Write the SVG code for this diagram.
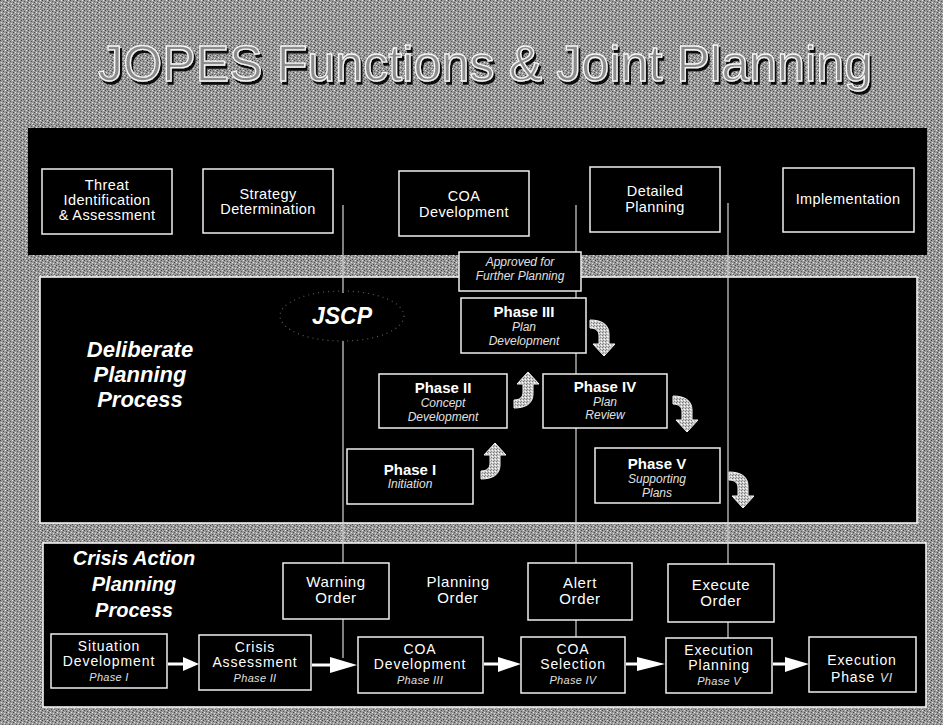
<svg xmlns="http://www.w3.org/2000/svg" width="943" height="725" viewBox="0 0 943 725">
<defs>
<pattern id="noise" width="7" height="5" patternUnits="userSpaceOnUse">
<rect width="7" height="5" fill="#9a9a9a"/>
<rect x="0" y="0" width="1" height="1" fill="#444"/>
<rect x="3" y="1" width="1" height="1" fill="#555"/>
<rect x="5" y="0" width="1" height="1" fill="#e6e6e6"/>
<rect x="1" y="2" width="1" height="1" fill="#e6e6e6"/>
<rect x="6" y="2" width="1" height="1" fill="#4a4a4a"/>
<rect x="4" y="3" width="1" height="1" fill="#ddd"/>
<rect x="2" y="4" width="1" height="1" fill="#505050"/>
<rect x="5" y="4" width="1" height="1" fill="#6a6a6a"/>
</pattern>
<pattern id="lite" width="3" height="3" patternUnits="userSpaceOnUse">
<rect width="3" height="3" fill="#c8c8c8"/>
<rect x="0" y="0" width="1" height="1" fill="#777"/>
<rect x="2" y="1" width="1" height="1" fill="#fff"/>
<rect x="1" y="2" width="1" height="1" fill="#888"/>
</pattern>
<filter id="shadow" x="-5%" y="-20%" width="110%" height="150%">
<feOffset in="SourceAlpha" dx="2" dy="3" result="o"/>
<feFlood flood-color="#111"/>
<feComposite in2="o" operator="in" result="s"/>
<feMerge><feMergeNode in="s"/><feMergeNode in="SourceGraphic"/></feMerge>
</filter>
<path id="cdown" d="M0,0 C11,0 19,4 19,14 L19,24 L25,24 L14,36 L3,24 L9,24 L9,16 C9,11 6,8 0,8 Z"/>
<path id="cup" d="M0,36 C11,36 19,32 19,22 L19,12 L25,12 L14,0 L3,12 L9,12 L9,20 C9,25 6,28 0,28 Z"/>
<style>
.bg{fill:url(#noise)}
.band{fill:#000}
.bandb{fill:#000;stroke:#f2f2f2;stroke-width:1.6}
.box{fill:#000;stroke:#efefef;stroke-width:1.5}
.t{font-family:"Liberation Sans",Arial,Helvetica,sans-serif;fill:#fff;text-anchor:middle}
.s14{font-size:14.5px;letter-spacing:0.4px}
.s16{font-size:15px;letter-spacing:0.6px}
.s15{font-size:14px;letter-spacing:0.9px}
.ph{font-size:15px;font-weight:bold}
.sub{font-size:12px;font-style:italic;fill:#e0e0e0}
.sub2{font-size:11px;font-style:italic;fill:#e0e0e0;letter-spacing:0.3px}
.big{font-size:22px;font-weight:bold;font-style:italic}
.vl{stroke:#d6d6d6;stroke-width:1.2;fill:none}
.wa{fill:#fff}
.ws{stroke:#fff;stroke-width:3}
.ca{fill:url(#lite);stroke:#f4f4f4;stroke-width:1}
.title{font-family:"Liberation Sans",Arial,sans-serif;font-size:50px;fill:#8c8c8c;stroke:#f6f6f6;stroke-width:1.3}
</style>
</defs>

<rect class="bg" x="0" y="0" width="943" height="725"/>

<!-- title -->
<g id="title">
<text class="title" x="98" y="81" textLength="774" filter="url(#shadow)">JOPES Functions &amp; Joint Planning</text>
</g>

<!-- bands -->
<g id="bands">
<rect class="band" x="28" y="128" width="899" height="127"/>
<rect class="bandb" x="40" y="277" width="877" height="246"/>
<rect class="bandb" x="43" y="543" width="883" height="164"/>
</g>

<!-- connectors -->
<g id="connectors">
<line class="vl" x1="343" y1="205" x2="343" y2="293"/>
<line class="vl" x1="343" y1="341" x2="343" y2="658"/>
<line class="vl" x1="576" y1="205" x2="576" y2="637"/>
<line class="vl" x1="728" y1="203" x2="728" y2="638"/>
<ellipse cx="342" cy="316" rx="62" ry="25" fill="none" stroke="#5a5a5a" stroke-width="1.2" stroke-dasharray="1 4"/>
<line class="ws" x1="168" y1="664" x2="184" y2="664"/>
<polygon class="wa" points="183,657 199,664 183,671"/>
<line class="ws" x1="312" y1="665" x2="331" y2="665"/>
<polygon class="wa" points="330,657 357,665 330,673"/>
<line class="ws" x1="484" y1="664" x2="499" y2="664"/>
<polygon class="wa" points="498,657 521,664 498,672"/>
<line class="ws" x1="626" y1="664" x2="638" y2="664"/>
<polygon class="wa" points="637,657 665,664 637,671"/>
<line class="ws" x1="773" y1="664" x2="786" y2="664"/>
<polygon class="wa" points="785,657 809,664 785,672"/>
</g>

<!-- top functions -->
<g id="threat"><rect class="box" x="42" y="169" width="130" height="65"/>
<text class="t s14" x="107" y="190">Threat</text><text class="t s14" x="107" y="205">Identification</text><text class="t s14" x="107" y="220">&amp; Assessment</text></g>
<g id="strategy"><rect class="box" x="203" y="169" width="130" height="64"/>
<text class="t s14" x="268" y="199">Strategy</text><text class="t s14" x="268" y="214">Determination</text></g>
<g id="coa-top"><rect class="box" x="399" y="171" width="130" height="65"/>
<text class="t s14" x="464" y="201">COA</text><text class="t s14" x="464" y="217">Development</text></g>
<g id="detailed"><rect class="box" x="590" y="167" width="130" height="65"/>
<text class="t s14" x="655" y="196">Detailed</text><text class="t s14" x="655" y="212">Planning</text></g>
<g id="implementation"><rect class="box" x="783" y="168" width="131" height="64"/>
<text class="t s14" x="848" y="204">Implementation</text></g>

<!-- deliberate planning -->
<g id="deliberate-label">
<text class="t big" x="140" y="357">Deliberate</text><text class="t big" x="140" y="382">Planning</text><text class="t big" x="140" y="407">Process</text></g>
<g id="jscp"><text class="t" x="342" y="324" font-size="23" font-weight="bold" font-style="italic">JSCP</text></g>
<g id="approved"><rect class="box" x="459" y="252" width="122" height="39"/>
<text class="t sub" x="520" y="266">Approved for</text><text class="t sub" x="520" y="280">Further Planning</text></g>
<g id="phase3"><rect class="box" x="461" y="298" width="125" height="55"/>
<text class="t ph" x="524" y="317">Phase III</text><text class="t sub" x="524" y="331">Plan</text><text class="t sub" x="524" y="345">Development</text></g>
<g id="phase2"><rect class="box" x="379" y="374" width="128" height="54"/>
<text class="t ph" x="443" y="393">Phase II</text><text class="t sub" x="443" y="407">Concept</text><text class="t sub" x="443" y="421">Development</text></g>
<g id="phase4"><rect class="box" x="543" y="374" width="124" height="54"/>
<text class="t ph" x="605" y="392">Phase IV</text><text class="t sub" x="605" y="406">Plan</text><text class="t sub" x="605" y="419">Review</text></g>
<g id="phase5"><rect class="box" x="595" y="448" width="125" height="55"/>
<text class="t ph" x="657" y="469">Phase V</text><text class="t sub" x="657" y="483">Supporting</text><text class="t sub" x="657" y="497">Plans</text></g>
<g id="phase1"><rect class="box" x="347" y="449" width="126" height="55"/>
<text class="t ph" x="410" y="475">Phase I</text><text class="t sub" x="410" y="488">Initiation</text></g>

<g id="curved-arrows">
<use href="#cup" class="ca" transform="translate(481,443)"/>
<use href="#cup" class="ca" transform="translate(514,372)"/>
<use href="#cdown" class="ca" transform="translate(590,320)"/>
<use href="#cdown" class="ca" transform="translate(673,396)"/>
<use href="#cdown" class="ca" transform="translate(729,472)"/>
</g>

<!-- crisis action planning -->
<g id="crisis-label">
<text class="t" x="134" y="565" font-size="20" font-weight="bold" font-style="italic">Crisis Action</text>
<text class="t" x="134" y="591" font-size="20" font-weight="bold" font-style="italic">Planning</text>
<text class="t" x="134" y="617" font-size="20" font-weight="bold" font-style="italic">Process</text></g>
<g id="warning"><rect class="box" x="283" y="563" width="106" height="56"/>
<text class="t s16" x="336" y="587">Warning</text><text class="t s16" x="336" y="603">Order</text></g>
<g id="planning-order">
<text class="t s16" x="458" y="587">Planning</text><text class="t s16" x="458" y="603">Order</text></g>
<g id="alert"><rect class="box" x="528" y="563" width="104" height="57"/>
<text class="t s16" x="580" y="588">Alert</text><text class="t s16" x="580" y="604">Order</text></g>
<g id="execute"><rect class="box" x="668" y="564" width="106" height="58"/>
<text class="t s16" x="721" y="590">Execute</text><text class="t s16" x="721" y="606">Order</text></g>

<g id="situation"><rect class="box" x="51" y="634" width="116" height="54"/>
<text class="t s15" x="109" y="651">Situation</text><text class="t s15" x="109" y="666">Development</text><text class="t sub2" x="109" y="681">Phase I</text></g>
<g id="crisis-assessment"><rect class="box" x="199" y="635" width="112" height="55"/>
<text class="t s15" x="255" y="652">Crisis</text><text class="t s15" x="255" y="667">Assessment</text><text class="t sub2" x="255" y="682">Phase II</text></g>
<g id="coa-development"><rect class="box" x="358" y="637" width="125" height="56"/>
<text class="t s15" x="420" y="654">COA</text><text class="t s15" x="420" y="669">Development</text><text class="t sub2" x="420" y="684">Phase III</text></g>
<g id="coa-selection"><rect class="box" x="521" y="637" width="104" height="56"/>
<text class="t s15" x="573" y="654">COA</text><text class="t s15" x="573" y="669">Selection</text><text class="t sub2" x="573" y="684">Phase IV</text></g>
<g id="execution-planning"><rect class="box" x="666" y="638" width="106" height="55"/>
<text class="t s15" x="719" y="655">Execution</text><text class="t s15" x="719" y="670">Planning</text><text class="t sub2" x="719" y="685">Phase V</text></g>
<g id="execution-phase"><rect class="box" x="809" y="637" width="107" height="55"/>
<text class="t s15" x="862" y="665">Execution</text><text class="t s15" x="862" y="682">Phase <tspan font-size="12" font-style="italic" fill="#e0e0e0">VI</tspan></text></g>
</svg>
